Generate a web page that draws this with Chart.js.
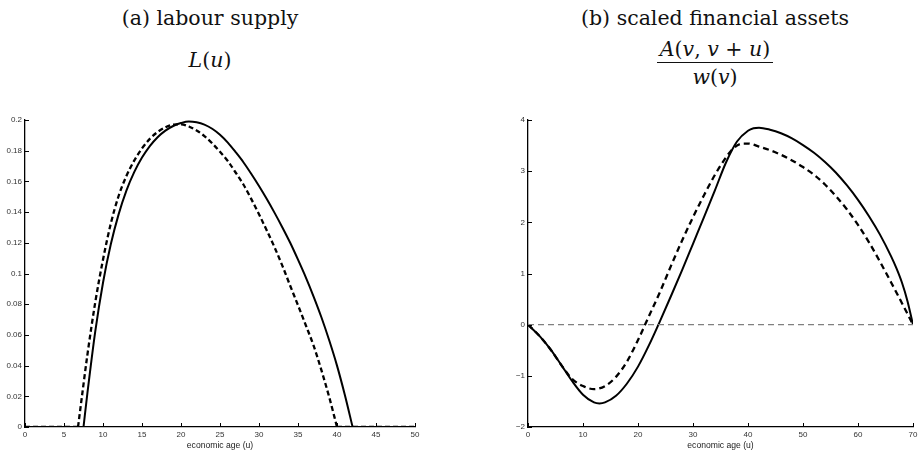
<!DOCTYPE html>
<html>
<head>
<meta charset="utf-8">
<script src="https://cdn.jsdelivr.net/npm/chart.js@4.4.0/dist/chart.umd.min.js"></script>
<style>
body { margin: 0; width: 918px; height: 453px; background: #fff; position: relative; overflow: hidden; }
.t { position: absolute; font-family: 'DejaVu Serif', 'Liberation Serif', serif; font-size: 20.5px; line-height: 21px; color: #111; text-align: center; white-space: nowrap; }
.box { position: absolute; }
</style>
</head>
<body>
<div class="t" style="left:60px; width:300px; top:8px;">(a) labour supply</div>
<div class="t" style="left:60px; width:300px; top:50px;"><i>L</i>(<i>u</i>)</div>
<div class="t" style="left:565px; width:300px; top:8px;">(b) scaled financial assets</div>
<div class="t" style="left:565px; width:300px; top:39px;"><i>A</i>(<i>v</i>, <i>v</i> + <i>u</i>)</div>
<div style="position:absolute; left:657px; width:116px; top:62px; height:0; border-top:1px solid #111;"></div>
<div class="t" style="left:565px; width:300px; top:67px;"><i>w</i>(<i>v</i>)</div>

<div class="box" style="left:0; top:100px; width:460px; height:353px;"><canvas id="labour" width="460" height="353"></canvas></div>
<div class="box" style="left:460px; top:100px; width:458px; height:353px;"><canvas id="assets" width="458" height="353"></canvas></div>

<script>
// panel (a): labour supply L(u)
var ageSolidA = [0, 7.5, 8, 9, 10, 11, 12, 13, 14, 15, 16, 17, 18, 19, 20, 21, 22, 23, 24, 25, 26, 27, 28, 29, 30, 31, 32, 33, 34, 35, 36, 37, 38, 39, 40, 41, 42, 50];
var labourSolid = [0, 0, 0.022, 0.062, 0.094, 0.119, 0.1385, 0.154, 0.166, 0.1755, 0.183, 0.1888, 0.1931, 0.1961, 0.198, 0.199, 0.1985, 0.197, 0.1943, 0.1904, 0.1853, 0.1791, 0.1725, 0.165, 0.157, 0.1485, 0.1395, 0.13, 0.12, 0.109, 0.0975, 0.085, 0.0715, 0.0565, 0.04, 0.021, 0, 0];
var ageDashedA = [0, 6.8, 7, 8, 9, 10, 11, 12, 13, 14, 15, 16, 17, 18, 19, 20, 21, 22, 23, 24, 25, 26, 27, 28, 29, 30, 31, 32, 33, 34, 35, 36, 37, 38, 39, 40, 50];
var labourDashed = [0, 0, 0.008, 0.047, 0.081, 0.109, 0.1325, 0.1505, 0.1635, 0.1735, 0.1815, 0.1877, 0.1922, 0.1953, 0.197, 0.1972, 0.1958, 0.1932, 0.1895, 0.1848, 0.1793, 0.1733, 0.1658, 0.158, 0.1486, 0.1386, 0.128, 0.117, 0.105, 0.092, 0.0793, 0.0663, 0.053, 0.037, 0.0195, 0, 0];

// panel (b): scaled financial assets A(v,v+u)/w(v)
var ageSolidB = [0, 2, 4, 6, 8, 10, 12, 13, 14, 16, 18, 20, 22, 24, 26, 28, 30, 32, 34, 36, 38, 40, 41, 42, 44, 46, 48, 50, 52, 54, 56, 58, 60, 62, 64, 66, 67, 68, 69, 70];
var assetsSolid = [0, -0.21, -0.47, -0.78, -1.1, -1.37, -1.52, -1.54, -1.52, -1.39, -1.15, -0.82, -0.4, 0.07, 0.56, 1.06, 1.58, 2.1, 2.63, 3.17, 3.58, 3.79, 3.84, 3.85, 3.81, 3.74, 3.64, 3.51, 3.36, 3.18, 2.97, 2.72, 2.44, 2.12, 1.76, 1.34, 1.1, 0.82, 0.46, 0];
var ageDashedB = [0, 2, 4, 6, 7, 8, 10, 12, 14, 16, 18, 20, 22, 24, 26, 28, 30, 32, 34, 36, 37, 38, 39, 40, 42, 44, 46, 48, 50, 52, 54, 56, 58, 60, 62, 64, 66, 68, 70];
var assetsDashed = [0, -0.21, -0.47, -0.78, -0.93, -1.06, -1.2, -1.26, -1.2, -1.02, -0.72, -0.3, 0.17, 0.64, 1.15, 1.64, 2.1, 2.53, 2.93, 3.27, 3.41, 3.5, 3.54, 3.54, 3.48, 3.41, 3.32, 3.21, 3.08, 2.93, 2.74, 2.51, 2.25, 1.95, 1.61, 1.23, 0.83, 0.42, 0];
var zeroAge = [0, 70];
var zeroLevel = [0, 0];

var xTitle = 'economic age (u)';

function pts(xs, ys) {
    return xs.map(function (x, i) { return { x: x, y: ys[i] }; });
}

// matlab style ticks pointing into the plot
var innerTicks = {
    id: 'innerTicks',
    afterDatasetsDraw: function (chart) {
        var ctx = chart.ctx, a = chart.chartArea;
        var sx = chart.scales.x, sy = chart.scales.y;
        ctx.save();
        ctx.strokeStyle = '#000';
        ctx.lineWidth = 1;
        sx.ticks.forEach(function (t) {
            var p = Math.round(sx.getPixelForValue(t.value)) + 0.5;
            ctx.beginPath(); ctx.moveTo(p, a.bottom); ctx.lineTo(p, a.bottom - 4); ctx.stroke();
        });
        sy.ticks.forEach(function (t) {
            var p = Math.round(sy.getPixelForValue(t.value)) + 0.5;
            ctx.beginPath(); ctx.moveTo(a.left, p); ctx.lineTo(a.left + 4, p); ctx.stroke();
        });
        ctx.restore();
    }
};

function line(data, dash, color, width) {
    return {
        data: data,
        showLine: true,
        borderColor: color,
        borderWidth: width,
        borderDash: dash,
        pointRadius: 0,
        cubicInterpolationMode: 'monotone',
        fill: false
    };
}

// the hump and the flat zero stretches are drawn apart so the corners stay sharp
function humpLines(xs, ys, dash, width) {
    var d = pts(xs, ys), n = d.length;
    return [
        line(d.slice(0, 2), dash, '#000', width),
        line(d.slice(1, n - 1), dash, '#000', width),
        line(d.slice(n - 2), dash, '#000', width)
    ];
}

function options(xMax, xStep, yMin, yMax, yStep, yWidth, yFmt, padRight) {
    var tickFont = { family: "'Liberation Sans', Arial, sans-serif", size: 8 };
    return {
        responsive: false,
        animation: false,
        layout: { padding: { top: 20, right: padRight, left: 0, bottom: 0 } },
        plugins: { legend: { display: false }, tooltip: { enabled: false } },
        scales: {
            x: {
                type: 'linear', min: 0, max: xMax,
                grid: { display: false, drawTicks: false },
                border: { display: true, color: '#000', width: 1.3 },
                ticks: { stepSize: xStep, autoSkip: false, maxRotation: 0, padding: 3, color: '#333', font: tickFont },
                title: { display: true, text: xTitle, color: '#222', padding: { top: 0, bottom: 2 },
                         font: { family: "'Liberation Sans', Arial, sans-serif", size: 8.6 } },
                afterFit: function (s) { s.height = 26; s.paddingLeft = 0; s.paddingRight = 0; }
            },
            y: {
                min: yMin, max: yMax,
                grid: { display: false, drawTicks: false },
                border: { display: true, color: '#000', width: 1.3 },
                ticks: { stepSize: yStep, padding: 3, color: '#333', font: tickFont, callback: yFmt },
                afterFit: function (s) { s.width = yWidth; s.paddingTop = 0; s.paddingBottom = 0; }
            }
        }
    };
}

new Chart(document.getElementById('labour'), {
    type: 'scatter',
    data: {
        datasets: humpLines(ageDashedA, labourDashed, [5, 3], 2.3)
            .concat(humpLines(ageSolidA, labourSolid, [], 2))
    },
    options: options(50, 5, 0, 0.2, 0.02, 25, function (v) { return String(+v.toFixed(2)); }, 45),
    plugins: [innerTicks]
});

new Chart(document.getElementById('assets'), {
    type: 'scatter',
    data: {
        datasets: [
            line(pts(zeroAge, zeroLevel), [6, 4], '#808080', 1.2),
            line(pts(ageDashedB, assetsDashed), [6, 4], '#000', 2.3),
            line(pts(ageSolidB, assetsSolid), [], '#000', 2)
        ]
    },
    options: options(70, 10, -2, 4, 1, 68, function (v) { return v < 0 ? '\u2212' + Math.abs(v) : String(v); }, 5),
    plugins: [innerTicks]
});
</script>
</body>
</html>
